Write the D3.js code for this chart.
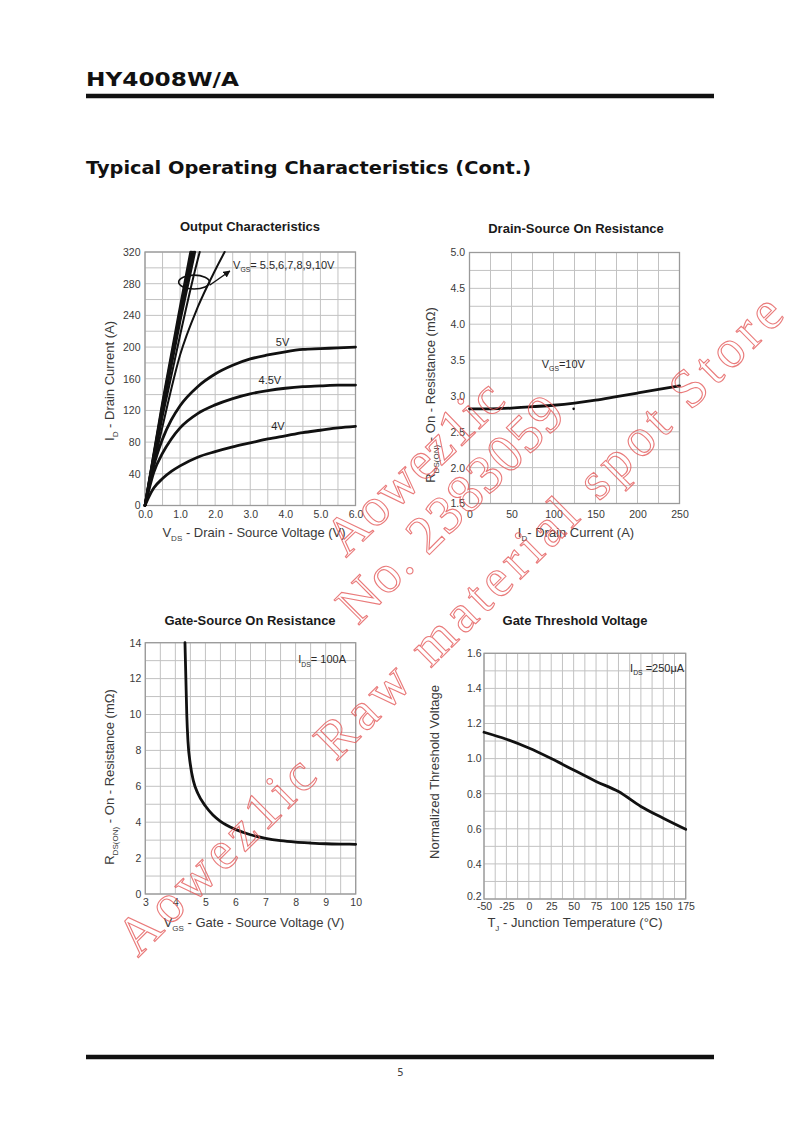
<!DOCTYPE html>
<html>
<head>
<meta charset="utf-8">
<script src="https://cdn.jsdelivr.net/npm/d3@7"></script>
<style>
  body { margin: 0; background: #fff; }
  svg { display: block; }
</style>
</head>
<body>
<script>
// ---------- data ----------

// Output Characteristics: VDS (V) vs ID (A)
var outVds = [0, 0.1, 0.25, 0.5, 0.75, 1.0, 1.5, 2.0, 2.5, 3.0, 3.5, 4.0, 4.5, 5.0, 5.5, 6.0];
var outId4V = [0, 10, 22, 34, 43, 50, 61, 68, 74, 79, 84, 88, 92, 95, 98, 100];
var outId45V = [0, 18, 42, 66, 84, 98, 116, 127, 135, 141, 145, 148, 150, 151, 152, 152];
var outId5V = [0, 20, 50, 84, 108, 126, 150, 166, 177, 185, 190, 194, 197, 198, 199, 200];
// steep family, VGS = 5.5 .. 10V  ([VDS, ID] pairs)
var outId55V = [[0, 0], [0.5, 100], [1.0, 190], [1.5, 250], [2.0, 297], [2.27, 320]];
var outId6V = [[0, 0], [0.5, 112], [1.0, 215], [1.5, 310], [1.56, 320]];
var outId7V = [[0, 0], [0.5, 120], [1.0, 233], [1.42, 320]];
var outId8V = [[0, 0], [0.5, 124], [1.0, 240], [1.37, 320]];
var outId9V = [[0, 0], [0.5, 127], [1.0, 245], [1.33, 320]];
var outId10V = [[0, 0], [0.5, 130], [1.0, 250], [1.30, 320]];
var outXTicks = [0, 1, 2, 3, 4, 5, 6];
var outYTicks = [0, 40, 80, 120, 160, 200, 240, 280, 320];

// Drain-Source On Resistance: ID (A) vs RDS(on) (mOhm), VGS = 10V
var rdsId = [0, 25, 50, 75, 100, 125, 150, 175, 200, 225, 250];
var rdsR = [2.82, 2.82, 2.83, 2.85, 2.87, 2.9, 2.94, 2.99, 3.04, 3.09, 3.14];
var rdsDot = [[124, 2.82]];
var rdsXTicks = [0, 50, 100, 150, 200, 250];
var rdsYTicks = [1.5, 2.0, 2.5, 3.0, 3.5, 4.0, 4.5, 5.0];

// Gate-Source On Resistance: VGS (V) vs RDS(on) (mOhm), IDS = 100A
var gsVgs = [4.32, 4.35, 4.38, 4.42, 4.5, 4.6, 4.75, 5.0, 5.25, 5.5, 6.0, 6.5, 7.0, 7.5, 8.0, 8.5, 9.0, 9.5, 10];
var gsR = [14, 12, 10, 8.5, 7.2, 6.3, 5.6, 4.9, 4.4, 4.05, 3.6, 3.3, 3.1, 2.97, 2.89, 2.84, 2.8, 2.78, 2.77];
var gsXTicks = [3, 4, 5, 6, 7, 8, 9, 10];
var gsYTicks = [0, 2, 4, 6, 8, 10, 12, 14];

// Gate Threshold Voltage: Tj (C) vs normalized VGS(th), IDS = 250uA
var vthTj = [-50, -25, 0, 25, 50, 75, 100, 125, 150, 175];
var vthNorm = [1.15, 1.11, 1.06, 1.0, 0.935, 0.87, 0.812, 0.727, 0.66, 0.597];
var vthXTicks = [-50, -25, 0, 25, 50, 75, 100, 125, 150, 175];
var vthYTicks = [0.2, 0.4, 0.6, 0.8, 1.0, 1.2, 1.4, 1.6];

// watermark lines
var markLines = ['Aowez1ic', 'No. 2383059', 'Aowez1ic Raw material spot Store'];

// ---------- page ----------
var svg = d3.select('body').append('svg')
    .attr('width', 800)
    .attr('height', 1132)
    .style('font-family', '"Liberation Sans", Arial, sans-serif');

svg.append('text')
    .attr('x', 86).attr('y', 86)
    .attr('font-family', '"DejaVu Sans", Verdana, sans-serif')
    .attr('font-weight', 'bold').attr('font-size', 20)
    .attr('textLength', 153).attr('lengthAdjust', 'spacingAndGlyphs')
    .attr('fill', '#111')
    .text('HY4008W/A');

svg.append('line')
    .attr('x1', 86).attr('x2', 714).attr('y1', 96).attr('y2', 96)
    .attr('stroke', '#111').attr('stroke-width', 4.5);

svg.append('text')
    .attr('x', 86).attr('y', 174)
    .attr('font-family', '"DejaVu Sans", Verdana, sans-serif')
    .attr('font-weight', 'bold').attr('font-size', 17)
    .attr('textLength', 445).attr('lengthAdjust', 'spacingAndGlyphs')
    .attr('fill', '#111')
    .text('Typical Operating Characteristics (Cont.)');

svg.append('line')
    .attr('x1', 86).attr('x2', 714).attr('y1', 1057).attr('y2', 1057)
    .attr('stroke', '#111').attr('stroke-width', 4.5);

svg.append('text')
    .attr('x', 400.5).attr('y', 1076)
    .attr('text-anchor', 'middle')
    .attr('font-family', '"DejaVu Sans", Verdana, sans-serif')
    .attr('font-size', 10).attr('fill', '#444')
    .text('5');

svg.append('defs').append('marker')
    .attr('id', 'arrow')
    .attr('viewBox', '0 0 10 10')
    .attr('refX', 9).attr('refY', 5)
    .attr('markerWidth', 7).attr('markerHeight', 7)
    .attr('markerUnits', 'userSpaceOnUse')
    .attr('orient', 'auto')
  .append('path')
    .attr('d', 'M0,0L10,5L0,10z')
    .attr('fill', '#111');

// Text with subscripts: parts are strings or {sub: '...'}
function rich(text, parts, size) {
  var shift = size * 0.3, pending = 0;
  parts.forEach(function(p) {
    var t = text.append('tspan');
    if (typeof p === 'string') {
      t.text(p);
      if (pending) { t.attr('dy', -pending); pending = 0; }
    } else {
      t.text(p.sub).attr('font-size', size * 0.62).attr('dy', shift);
      pending = shift;
    }
  });
  return text;
}

// One datasheet graph: grid, frame, tick labels, titles
function panel(o) {
  var x = d3.scaleLinear().domain(o.xDom).range([o.x0, o.x1]);
  var y = d3.scaleLinear().domain(o.yDom).range([o.y1, o.y0]);
  var g = svg.append('g');

  var xs = d3.range(o.xDom[0], o.xDom[1] + o.xStep / 2, o.xStep);
  var ys = d3.range(o.yDom[0], o.yDom[1] + o.yStep / 2, o.yStep);

  g.selectAll('line.vgrid').data(xs).enter().append('line')
      .attr('class', 'vgrid')
      .attr('x1', function(d) { return x(d); }).attr('x2', function(d) { return x(d); })
      .attr('y1', o.y0).attr('y2', o.y1)
      .attr('stroke', '#c2c2c2').attr('stroke-width', 1);
  g.selectAll('line.hgrid').data(ys).enter().append('line')
      .attr('class', 'hgrid')
      .attr('x1', o.x0).attr('x2', o.x1)
      .attr('y1', function(d) { return y(d); }).attr('y2', function(d) { return y(d); })
      .attr('stroke', '#c2c2c2').attr('stroke-width', 1);

  g.append('rect')
      .attr('x', o.x0).attr('y', o.y0)
      .attr('width', o.x1 - o.x0).attr('height', o.y1 - o.y0)
      .attr('fill', 'none').attr('stroke', '#9a9a9a').attr('stroke-width', 1.3);

  var xa = g.append('g')
      .attr('transform', 'translate(0,' + o.y1 + ')')
      .call(d3.axisBottom(x).tickValues(o.xTicks).tickFormat(o.xFmt).tickSize(0).tickPadding(o.xPad));
  var ya = g.append('g')
      .attr('transform', 'translate(' + o.x0 + ',0)')
      .call(d3.axisLeft(y).tickValues(o.yTicks).tickFormat(o.yFmt).tickSize(0).tickPadding(o.yPad));
  [xa, ya].forEach(function(a) {
    a.select('.domain').remove();
    a.selectAll('text')
        .attr('font-family', '"Liberation Sans", Arial, sans-serif')
        .attr('font-size', 10.5).attr('fill', '#3a3a3a');
  });

  g.append('text')
      .attr('x', o.titleX).attr('y', o.titleY)
      .attr('text-anchor', 'middle')
      .attr('font-weight', 'bold').attr('font-size', 13)
      .attr('fill', '#1a1a1a')
      .text(o.title);

  rich(g.append('text')
      .attr('x', o.xLabelX).attr('y', o.xLabelY)
      .attr('text-anchor', 'middle')
      .attr('font-size', 13).attr('fill', '#3a3a3a'), o.xLabel, 13);

  rich(g.append('text')
      .attr('transform', 'translate(' + o.yLabelX + ',' + o.yLabelY + ') rotate(-90)')
      .attr('text-anchor', 'middle')
      .attr('font-size', 13).attr('fill', '#3a3a3a'), o.yLabel, 13);

  return { g: g, x: x, y: y, ya: ya, xa: xa };
}

function curve(p, pts, w) {
  var line = d3.line()
      .x(function(d) { return p.x(d[0]); })
      .y(function(d) { return p.y(d[1]); })
      .curve(d3.curveMonotoneX);
  p.g.append('path')
      .datum(pts)
      .attr('d', line)
      .attr('fill', 'none')
      .attr('stroke', '#111')
      .attr('stroke-width', w)
      .attr('stroke-linecap', 'round');
}

function note(p, xv, yv, parts, anchor) {
  rich(p.g.append('text')
      .attr('x', p.x(xv)).attr('y', p.y(yv))
      .attr('dy', '0.35em')
      .attr('text-anchor', anchor || 'start')
      .attr('font-size', 11).attr('fill', '#2a2a2a'), parts, 11);
}

function zip(a, b) { return a.map(function(v, i) { return [v, b[i]]; }); }

// ---------- Output Characteristics ----------
var p1 = panel({
  x0: 145, x1: 355.5, y0: 252, y1: 505.5,
  xDom: [0, 6], yDom: [0, 320], xStep: 0.5, yStep: 20,
  xTicks: outXTicks, yTicks: outYTicks,
  xFmt: d3.format('.1f'), yFmt: d3.format('d'),
  xPad: 5.5, yPad: 4.5,
  title: 'Output Characteristics', titleX: 250, titleY: 231,
  xLabel: ['V', { sub: 'DS' }, ' - Drain - Source Voltage (V)'], xLabelX: 254, xLabelY: 537,
  yLabel: ['I', { sub: 'D' }, ' - Drain Current (A)'], yLabelX: 114, yLabelY: 381
});
curve(p1, zip(outVds, outId4V), 2.8);
curve(p1, zip(outVds, outId45V), 2.8);
curve(p1, zip(outVds, outId5V), 2.8);
[outId55V, outId6V].forEach(function(s) { curve(p1, s, 2); });
[outId7V, outId8V, outId9V, outId10V].forEach(function(s) { curve(p1, s, 2.6); });
note(p1, 3.92, 206, ['5V'], 'middle');
note(p1, 3.56, 158, ['4.5V'], 'middle');
note(p1, 3.79, 100, ['4V'], 'middle');
note(p1, 2.51, 304, ['V', { sub: 'GS' }, '= 5.5,6,7,8,9,10V']);
p1.g.append('ellipse')
    .attr('cx', p1.x(1.40)).attr('cy', p1.y(282))
    .attr('rx', p1.x(0.44) - p1.x(0)).attr('ry', p1.y(0) - p1.y(8.8))
    .attr('fill', 'none').attr('stroke', '#111').attr('stroke-width', 1.6);
p1.g.append('line')
    .attr('x1', p1.x(1.84)).attr('y1', p1.y(278))
    .attr('x2', p1.x(2.42)).attr('y2', p1.y(296))
    .attr('stroke', '#111').attr('stroke-width', 1.4)
    .attr('marker-end', 'url(#arrow)');

// ---------- Drain-Source On Resistance ----------
var p2 = panel({
  x0: 469.5, x1: 679.5, y0: 252.5, y1: 503.5,
  xDom: [0, 250], yDom: [1.5, 5.0], xStep: 25, yStep: 0.25,
  xTicks: rdsXTicks, yTicks: rdsYTicks,
  xFmt: d3.format('d'), yFmt: d3.format('.1f'),
  xPad: 7.5, yPad: 4.5,
  title: 'Drain-Source On Resistance', titleX: 576, titleY: 232.5,
  xLabel: ['I', { sub: 'D' }, '- Drain Current (A)'], xLabelX: 576, xLabelY: 537,
  yLabel: ['R', { sub: 'DS(ON)' }, ' - On - Resistance (m\u03a9)'], yLabelX: 435, yLabelY: 395
});
curve(p2, zip(rdsId, rdsR), 2.8);
p2.g.selectAll('circle.dot').data(rdsDot).enter().append('circle')
    .attr('class', 'dot')
    .attr('cx', function(d) { return p2.x(d[0]); })
    .attr('cy', function(d) { return p2.y(d[1]); })
    .attr('r', 1.3).attr('fill', '#111');
note(p2, 86, 3.45, ['V', { sub: 'GS' }, '=10V']);

// ---------- Gate-Source On Resistance ----------
var p3 = panel({
  x0: 145.3, x1: 355.7, y0: 642.7, y1: 894,
  xDom: [3, 10], yDom: [0, 14], xStep: 0.5, yStep: 1,
  xTicks: gsXTicks, yTicks: gsYTicks,
  xFmt: d3.format('d'), yFmt: d3.format('d'),
  xPad: 5, yPad: 4,
  title: 'Gate-Source On Resistance', titleX: 250, titleY: 625,
  xLabel: ['V', { sub: 'GS' }, ' - Gate - Source Voltage (V)'], xLabelX: 254, xLabelY: 927,
  yLabel: ['R', { sub: 'DS(ON)' }, ' - On - Resistance (m\u03a9)'], yLabelX: 114, yLabelY: 777
});
curve(p3, zip(gsVgs, gsR), 2.8);
note(p3, 8.09, 13.07, ['I', { sub: 'DS' }, '= 100A']);

// ---------- Gate Threshold Voltage ----------
var p4 = panel({
  x0: 484, x1: 685.7, y0: 653.3, y1: 899,
  xDom: [-50, 175], yDom: [0.2, 1.6], xStep: 12.5, yStep: 0.1,
  xTicks: vthXTicks, yTicks: vthYTicks,
  xFmt: function(d) { return String(d); }, yFmt: d3.format('.1f'),
  xPad: 3.5, yPad: 2.5,
  title: 'Gate Threshold Voltage', titleX: 575, titleY: 625,
  xLabel: ['T', { sub: 'J' }, ' - Junction Temperature (\u00b0C)'], xLabelX: 575, xLabelY: 927,
  yLabel: ['Normalized Threshold Voltage'], yLabelX: 439, yLabelY: 772
});
// the lowest label sits a little above the corner in the original
p4.ya.selectAll('.tick').filter(function(d) { return d === vthYTicks[0]; })
    .select('text').attr('dy', '0.05em');
curve(p4, zip(vthTj, vthNorm), 2.8);
note(p4, 113, 1.515, ['I', { sub: 'DS' }, ' =250\u03bcA']);

// ---------- watermark ----------
var markPos = [
  { x: 346, y: 558, len: 224, ang: -44 },
  { x: 358, y: 626, len: 296, ang: -45 },
  { x: 138, y: 958, len: 912, ang: -44.7 }
];
svg.append('g').selectAll('text').data(markLines).enter().append('text')
    .attr('transform', function(d, i) {
      return 'translate(' + markPos[i].x + ',' + markPos[i].y + ') rotate(' + markPos[i].ang + ')';
    })
    .attr('textLength', function(d, i) { return markPos[i].len; })
    .attr('lengthAdjust', 'spacing')
    .attr('font-family', '"Liberation Serif", "DejaVu Serif", serif')
    .attr('font-size', 54)
    .attr('fill', 'none')
    .attr('stroke', '#e55a5a')
    .attr('stroke-width', 1.1)
    .attr('opacity', 0.8)
    .text(function(d) { return d; });
</script>
</body>
</html>
